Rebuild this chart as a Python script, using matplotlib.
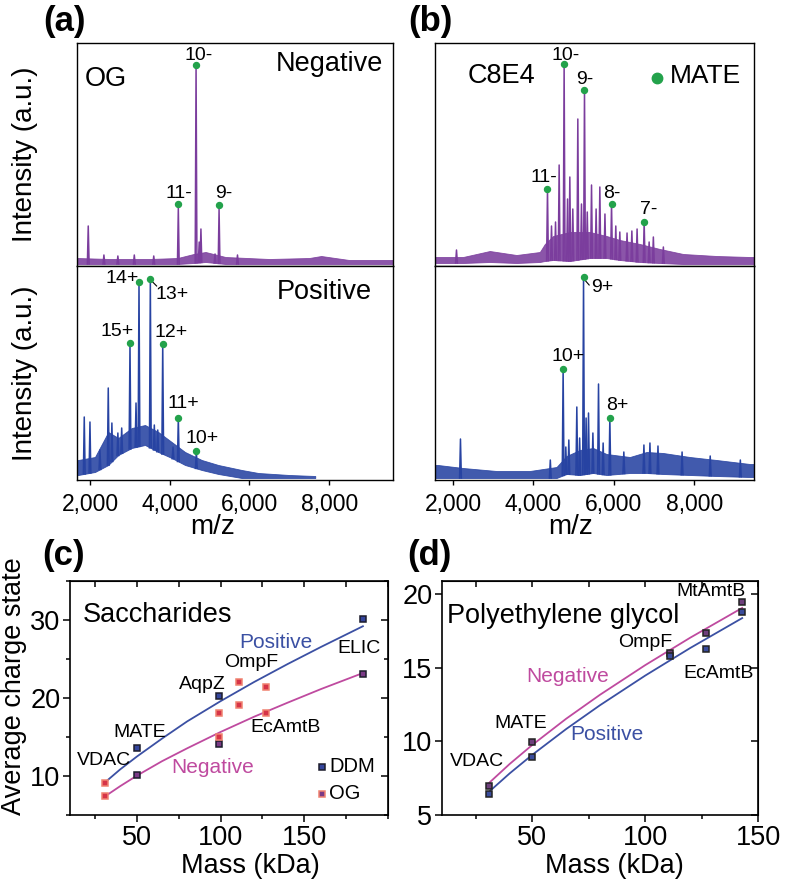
import numpy as np
import matplotlib
matplotlib.use("Agg")
import matplotlib.pyplot as plt
from matplotlib.ticker import FuncFormatter, MultipleLocator, FixedLocator

plt.rcParams['font.family'] = ['Liberation Sans', 'DejaVu Sans']

# ---------------- DATA ----------------
# (a) OG, negative mode spectrum
a_neg_env_mz = [1675, 2500, 3500, 4200, 4600, 4900, 5400, 6500, 7500, 7800, 8500, 9600]
a_neg_env_lo = [0, 0, 0, 0, 1, 2, 0, 0, 0, 0, 0, 0]
a_neg_env_hi = [6, 5, 5, 6, 10, 12, 7, 5, 6, 8, 4, 4]
a_neg_pk_mz = [1957, 2350, 2700, 3112, 3600, 4216, 4661, 4740, 4783, 5137, 5238, 5700]
a_neg_pk_h = [38, 9, 8, 9, 8, 56, 199, 22, 35, 10, 55, 9]
a_neg_lab = ['11-', '10-', '9-']
a_neg_lab_mz = [4216, 4661, 5238]
a_neg_lab_int = [60, 199, 59]

# (a) OG, positive mode spectrum
a_pos_env_mz = [1675, 1706, 2126, 2460, 2711, 3047, 3381, 3714, 4050, 4385, 4804, 5221, 5808, 6225, 7000, 7650]
a_pos_env_lo = [3, 3, 6, 13, 23, 30, 33, 26, 20, 13, 8, 4, 0, 0, 0, 0]
a_pos_env_hi = [18, 18, 21, 46, 40, 50, 53, 46, 36, 26, 18, 13, 8, 5, 3, 2]
a_pos_pk_mz = [1857, 2000, 2250, 2459, 2550, 2700, 2796, 3004, 3155, 3230, 3514, 3614, 3700, 3825, 4083, 4216, 4668]
a_pos_pk_h = [61, 56, 28, 90, 55, 45, 50, 135, 75, 196, 199, 53, 48, 134, 31, 60, 27]
a_pos_lab = ['15+', '14+', '13+', '12+', '11+', '10+']
a_pos_lab_mz = [3004, 3230, 3514, 3825, 4216, 4668]
a_pos_lab_int = [135, 196, 199, 134, 60, 27]

# (b) C8E4, negative mode spectrum
b_neg_env_mz = [1550, 1587, 2249, 2914, 3579, 4159, 4284, 4490, 4906, 5404, 5820, 6151, 6649, 7147, 7728, 8559, 9388, 9490]
b_neg_env_lo = [1, 1, 1, 2, 1, 2, 3, 4, 3, 6, 6, 4, 2, 1, 0, 0, 0, 0]
b_neg_env_hi = [7, 7, 7, 13, 9, 12, 20, 28, 32, 32, 28, 24, 20, 15, 10, 8, 7, 7]
b_neg_pk_mz = [2085, 4350, 4450, 4550, 4640, 4764, 4850, 4906, 4980, 5105, 5196, 5271, 5340, 5446,
               5560, 5653, 5780, 5944, 6050, 6150, 6330, 6450, 6580, 6756, 6880, 6985, 7234]
b_neg_pk_h = [14, 75, 38, 42, 99, 200, 65, 87, 55, 145, 60, 174, 52, 79,
              55, 77, 50, 60, 38, 32, 31, 33, 35, 42, 22, 27, 17]
b_neg_lab = ['11-', '10-', '9-', '8-', '7-']
b_neg_lab_mz = [4350, 4764, 5271, 5944, 6756]
b_neg_lab_int = [75, 200, 174, 60, 42]

# (b) C8E4, positive mode spectrum
b_pos_env_mz = [1550, 1627, 2249, 3081, 3910, 4575, 4824, 5155, 5486, 5820, 6400, 6816, 7229, 7894, 8559, 9388, 9490]
b_pos_env_lo = [0, 0, 0, 0, 0, 0, 4, 3, 5, 3, 5, 5, 4, 3, 2, 1, 1]
b_pos_env_hi = [13, 13, 10, 7, 7, 11, 22, 28, 30, 24, 21, 26, 25, 21, 18, 14, 14]
b_pos_pk_mz = [2184, 4420, 4739, 4806, 4881, 5080, 5150, 5247, 5311, 5371, 5480, 5620, 5735, 5902,
               6250, 6750, 6900, 7100, 7700, 8400, 9150]
b_pos_pk_h = [39, 18, 109, 31, 38, 71, 40, 201, 60, 65, 45, 94, 35, 60,
              26, 33, 35, 32, 26, 22, 18]
b_pos_lab = ['10+', '9+', '8+']
b_pos_lab_mz = [4739, 5247, 5902]
b_pos_lab_int = [109, 201, 60]

# (c) Saccharide detergents
c_proteins = ['VDAC', 'MATE', 'AqpZ', 'OmpF', 'EcAmtB', 'ELIC']
c_ddm_mass = [50, 50, 99, 99, 185, 185]
c_ddm_charge = [13.6, 10.1, 20.2, 14.1, 30.1, 23.1]
c_ddm_mode = ['pos', 'neg', 'pos', 'neg', 'pos', 'neg']
c_og_mass = [31, 31, 99, 99, 111, 111, 127, 127]
c_og_charge = [9.1, 7.4, 18.1, 15.0, 22.0, 19.1, 21.4, 18.1]
c_og_mode = ['pos', 'neg', 'pos', 'neg', 'pos', 'neg', 'pos', 'neg']
c_fit_mass = [31, 40, 50, 65, 80, 100, 120, 140, 160, 185]
c_fit_pos = [9.2, 10.85, 12.5, 14.8, 17.0, 19.6, 22.05, 24.35, 26.55, 29.2]
c_fit_neg = [7.4, 8.7, 10.05, 11.9, 13.55, 15.65, 17.6, 19.4, 21.15, 23.2]

# (d) Polyethylene glycol detergent
d_proteins = ['VDAC', 'MATE', 'OmpF', 'EcAmtB', 'MtAmtB']
d_mass = [31, 50, 111, 127, 143]
d_neg = [7.0, 9.95, 16.0, 17.4, 19.45]
d_pos = [6.4, 8.97, 15.8, 16.3, 18.8]
d_fit_mass = [31, 40, 50, 65, 80, 100, 120, 143]
d_fit_neg = [7.2, 8.47, 9.76, 11.54, 13.17, 15.18, 17.05, 19.07]
d_fit_pos = [6.6, 7.83, 9.09, 10.84, 12.46, 14.47, 16.35, 18.38]

# ---------------- STYLE ----------------
PURPLE = '#7b3d9d'
BLUE = '#2743a2'
GREEN = '#23a24b'
POS_C = '#3b50a3'
NEG_C = '#bf4a9f'
W, H = 789, 886

fig = plt.figure(figsize=(W / 100, H / 100), dpi=100)


def ax_px(l, t, r, b):
    return fig.add_axes([l / W, 1 - b / H, (r - l) / W, (b - t) / H])


def spectrum(ax, env_mz, lo, hi, pk_mz, pk_h, color, xlim, ylim):
    ax.fill_between(env_mz, lo, hi, color=color, lw=0.6, alpha=0.88)
    w = 22
    for m, h in zip(pk_mz, pk_h):
        base = np.interp(m, env_mz, lo)
        ax.plot([m - w, m, m + w], [base, h, base], color=color, lw=1.1)
    ax.set_xlim(*xlim)
    ax.set_ylim(*ylim)
    ax.set_yticks([])
    for s in ax.spines.values():
        s.set_linewidth(1.0)


def dots(ax, mz, it, labels, lab_pos, fs=14):
    ax.plot(mz, it, 'o', color=GREEN, ms=4.3, zorder=6, clip_on=False)
    for lab, (x, y) in zip(labels, lab_pos):
        ax.text(x, y, lab, ha='center', va='center', fontsize=fs, zorder=7)


comma = FuncFormatter(lambda v, p: '{:,.0f}'.format(v))

# --- (a) ---
a_xlim = (1675, 9600)
ax_a1 = ax_px(77, 43, 393, 266)
spectrum(ax_a1, a_neg_env_mz, a_neg_env_lo, a_neg_env_hi, a_neg_pk_mz, a_neg_pk_h, PURPLE, a_xlim, (-2, 221))
ax_a1.set_xticks([])
dots(ax_a1, a_neg_lab_mz, a_neg_lab_int, a_neg_lab, [(4224, 71), (4736, 209), (5346, 71)])
ax_a1.text(0.025, 0.837, 'OG', transform=ax_a1.transAxes, fontsize=19.5, va='center', ha='left')
ax_a1.text(0.969, 0.906, 'Negative', transform=ax_a1.transAxes, fontsize=19.5, va='center', ha='right')

ax_a2 = ax_px(77, 266, 393, 480)
spectrum(ax_a2, a_pos_env_mz, a_pos_env_lo, a_pos_env_hi, a_pos_pk_mz, a_pos_pk_h, BLUE, a_xlim, (-2, 212))
dots(ax_a2, a_pos_lab_mz, a_pos_lab_int, a_pos_lab,
     [(2686, 147), (2811, 200), (4050, 184), (4041, 146), (4334, 75), (4811, 40)])
ax_a2.plot([3548, 3672], [197, 192], color='k', lw=0.8)
ax_a2.text(0.933, 0.88, 'Positive', transform=ax_a2.transAxes, fontsize=19.5, va='center', ha='right')

# --- (b) ---
b_xlim = (1550, 9490)
ax_b1 = ax_px(435, 43, 754, 266)
spectrum(ax_b1, b_neg_env_mz, b_neg_env_lo, b_neg_env_hi, b_neg_pk_mz, b_neg_pk_h, PURPLE, b_xlim, (-2, 221))
ax_b1.set_xticks([])
dots(ax_b1, b_neg_lab_mz, b_neg_lab_int, b_neg_lab,
     [(4258, 87), (4799, 209), (5287, 184), (5952, 71), (6873, 55)])
ax_b1.text(0.101, 0.852, 'C8E4', transform=ax_b1.transAxes, fontsize=19.5, va='center', ha='left')
ax_b1.plot([0.695], [0.844], 'o', color=GREEN, ms=7.5, transform=ax_b1.transAxes)
ax_b1.text(0.737, 0.852, 'MATE', transform=ax_b1.transAxes, fontsize=19, va='center', ha='left')

ax_b2 = ax_px(435, 266, 754, 480)
spectrum(ax_b2, b_pos_env_mz, b_pos_env_lo, b_pos_env_hi, b_pos_pk_mz, b_pos_pk_h, BLUE, b_xlim, (-2, 212))
dots(ax_b2, b_pos_lab_mz, b_pos_lab_int, b_pos_lab, [(4856, 122), (5703, 191), (6076, 73)])
ax_b2.plot([5279, 5387], [198, 193], color='k', lw=0.8)

for ax in (ax_a2, ax_b2):
    ax.set_xticks([2000, 4000, 6000, 8000])
    ax.xaxis.set_major_formatter(comma)
    ax.tick_params(axis='x', direction='out', length=3.5, width=1, labelsize=16.5, pad=6)

fig.text(25 / W, 1 - 154.5 / H, 'Intensity (a.u.)', rotation=90, ha='center', va='center', fontsize=20)
fig.text(25 / W, 1 - 373 / H, 'Intensity (a.u.)', rotation=90, ha='center', va='center', fontsize=20)
fig.text(212.5 / W, 1 - 527 / H, 'm/z', ha='center', va='center', fontsize=20)
fig.text(570.5 / W, 1 - 527 / H, 'm/z', ha='center', va='center', fontsize=20)

for lab, x, y in [('(a)', 43, 21), ('(b)', 408, 21), ('(c)', 42, 556), ('(d)', 407, 556)]:
    fig.text(x / W, 1 - y / H, lab, ha='left', va='center', fontsize=25, fontweight='bold')


# --- scatter panels ---
def style_scatter(ax, xlim, ylim, xmaj, ymaj, ymin_step):
    ax.set_xlim(*xlim)
    ax.set_ylim(*ylim)
    ax.xaxis.set_major_locator(FixedLocator(xmaj))
    ax.xaxis.set_minor_locator(MultipleLocator(25))
    ax.yaxis.set_major_locator(FixedLocator(ymaj))
    ax.yaxis.set_minor_locator(MultipleLocator(ymin_step))
    ax.tick_params(which='major', direction='out', length=5, width=1.1, labelsize=19.5, pad=2)
    ax.tick_params(which='minor', direction='out', length=3, width=1.1)
    for s in ax.spines.values():
        s.set_linewidth(1.2)
    top = ax.secondary_xaxis('top')
    top.xaxis.set_major_locator(FixedLocator(xmaj))
    top.xaxis.set_minor_locator(MultipleLocator(25))
    top.tick_params(which='both', direction='in', length=4, width=1.1, labeltop=False)
    right = ax.secondary_yaxis('right')
    right.yaxis.set_major_locator(FixedLocator(ymaj))
    right.yaxis.set_minor_locator(MultipleLocator(ymin_step))
    right.tick_params(which='major', direction='in', length=5, width=1.1, labelright=False)
    right.tick_params(which='minor', direction='in', length=3, width=1.1, labelright=False)


FACE = {'pos': '#34459c', 'neg': '#7a3a86'}

# (c)
ax_c = ax_px(70, 581, 388, 815)
ax_c.plot(c_fit_mass, c_fit_pos, color=POS_C, lw=1.3)
ax_c.plot(c_fit_mass, c_fit_neg, color=NEG_C, lw=1.3)
for m, q, md in zip(c_ddm_mass, c_ddm_charge, c_ddm_mode):
    ax_c.plot(m, q, 's', ms=5, mfc=FACE[md], mec='#1c1c2c', mew=1.1, zorder=5)
for m, q, md in zip(c_og_mass, c_og_charge, c_og_mode):
    ax_c.plot(m, q, 's', ms=5, mfc='#d63448', mec='#f08270', mew=1.1, zorder=5)
style_scatter(ax_c, (10, 200), (5, 35), [50, 100, 150], [10, 20, 30], 5)
ax_c.text(17.6, 30.6, 'Saccharides', fontsize=19.5, ha='left', va='center')
ax_c.text(133.3, 27.1, 'Positive', fontsize=15, color=POS_C, ha='center', va='center')
ax_c.text(95.2, 11.06, 'Negative', fontsize=15, color=NEG_C, ha='center', va='center')
for name, x, y in [('VDAC', 30.0, 11.95), ('MATE', 51.8, 15.6), ('AqpZ', 89.2, 21.7),
                   ('OmpF', 118.3, 24.6), ('EcAmtB', 138.7, 16.2), ('ELIC', 182.6, 26.4)]:
    ax_c.text(x, y, name, fontsize=14, ha='center', va='center')
ax_c.plot(160.4, 11.2, 's', ms=4.5, mfc=FACE['pos'], mec='#1c1c2c', mew=1.1)
ax_c.text(165, 11.2, 'DDM', fontsize=14.5, ha='left', va='center')
ax_c.plot(160.4, 7.7, 's', ms=4.5, mfc='#7a3a86', mec='#f08270', mew=1.1)
ax_c.text(165, 7.7, 'OG', fontsize=14.5, ha='left', va='center')

# (d)
ax_d = ax_px(442, 581, 758, 815)
ax_d.plot(d_fit_mass, d_fit_neg, color=NEG_C, lw=1.3)
ax_d.plot(d_fit_mass, d_fit_pos, color=POS_C, lw=1.3)
ax_d.plot(d_mass, d_neg, 's', ms=5, mfc='#6e3f7c', mec='#222', mew=1.1, ls='none', zorder=5)
ax_d.plot(d_mass, d_pos, 's', ms=5, mfc='#3a4c9c', mec='#222', mew=1.1, ls='none', zorder=5)
style_scatter(ax_d, (10, 150), (5, 20.9), [50, 100, 150], [5, 10, 15, 20], 5)
ax_d.text(12.1, 18.54, 'Polyethylene glycol', fontsize=19.5, ha='left', va='center')
ax_d.text(65.6, 14.41, 'Negative', fontsize=15, color=NEG_C, ha='center', va='center')
ax_d.text(83.2, 10.44, 'Positive', fontsize=15, color=POS_C, ha='center', va='center')
for name, x, y in [('VDAC', 25.4, 8.63), ('MATE', 44.7, 11.24), ('OmpF', 99.8, 16.75),
                   ('EcAmtB', 132.7, 14.64), ('MtAmtB', 129.0, 20.19)]:
    ax_d.text(x, y, name, fontsize=14, ha='center', va='center')

fig.text(14 / W, 1 - 686 / H, 'Average charge state', rotation=90, ha='center', va='center', fontsize=19.5)
fig.text(250 / W, 1 - 866 / H, 'Mass (kDa)', ha='center', va='center', fontsize=19.5)
fig.text(614 / W, 1 - 866 / H, 'Mass (kDa)', ha='center', va='center', fontsize=19.5)

fig.savefig('out.png', dpi=100)
